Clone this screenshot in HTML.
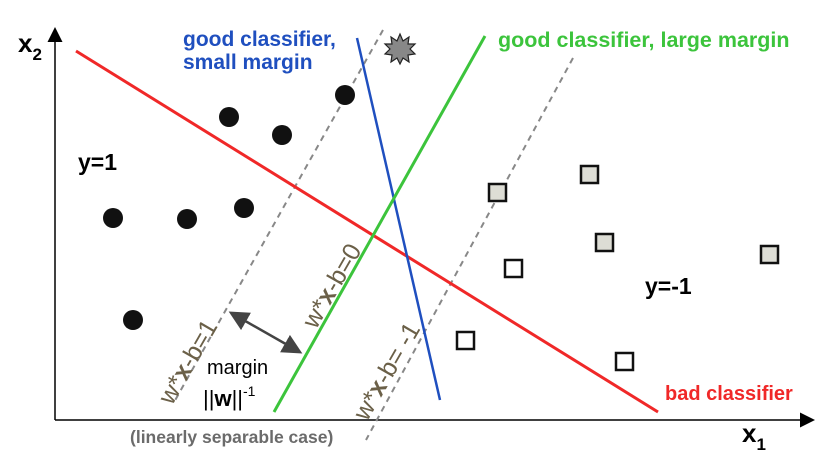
<!DOCTYPE html>
<html><head><meta charset="utf-8"><style>
body{margin:0;background:#fff;width:833px;height:459px;overflow:hidden}
svg{display:block;font-family:"Liberation Sans",Arial,sans-serif}
</style></head><body>
<svg width="833" height="459" viewBox="0 0 833 459">
<defs>
<marker id="ah" markerWidth="10" markerHeight="10" refX="8" refY="5" orient="auto"><path d="M0,0 L10,5 L0,10 z" fill="#000"/></marker>
<marker id="ah2" markerWidth="8" markerHeight="8" refX="6" refY="4" orient="auto-start-reverse"><path d="M0,0 L8,4 L0,8 z" fill="#444"/></marker>
</defs>
<line x1="55" y1="420" x2="55" y2="30" stroke="#000" stroke-width="1.5" marker-end="url(#ah)"/>
<line x1="55" y1="420" x2="812" y2="420" stroke="#000" stroke-width="1.5" marker-end="url(#ah)"/>
<text x="18" y="52" font-size="26" font-weight="bold">x<tspan font-size="17" dy="8">2</tspan></text>
<text x="742" y="442" font-size="26" font-weight="bold">x<tspan font-size="17" dy="8">1</tspan></text>
<line x1="383" y1="30" x2="173" y2="404" stroke="#888" stroke-width="2" stroke-dasharray="6,5"/>
<line x1="573" y1="58" x2="366" y2="440" stroke="#888" stroke-width="2" stroke-dasharray="6,5"/>
<line x1="76" y1="51" x2="658" y2="412" stroke="#f02828" stroke-width="3"/>
<line x1="357" y1="38" x2="440" y2="400" stroke="#1f4fbf" stroke-width="2.5"/>
<line x1="485" y1="36" x2="274" y2="412" stroke="#3cc43c" stroke-width="3"/>
<g fill="#111">
<circle cx="229" cy="117" r="10"/><circle cx="282" cy="135" r="10"/><circle cx="345" cy="95" r="10"/>
<circle cx="113" cy="218" r="10"/><circle cx="187" cy="219" r="10"/><circle cx="244" cy="208" r="10"/><circle cx="133" cy="320" r="10"/>
</g>
<g stroke="#111" stroke-width="2.5">
<rect x="489" y="184" width="17" height="17" fill="#ddddd5"/><rect x="581" y="166" width="17" height="17" fill="#ddddd5"/>
<rect x="596" y="234" width="17" height="17" fill="#ddddd5"/><rect x="761" y="246" width="17" height="17" fill="#ddddd5"/>
<rect x="505" y="260" width="17" height="17" fill="#fff"/><rect x="457" y="332" width="17" height="17" fill="#fff"/>
<rect x="616" y="353" width="17" height="17" fill="#fff"/>
</g>
<polygon fill="#888" stroke="#222" stroke-width="1.2" points="400,34 403,41 409,37 408,44 415,44 410,49 415,54 408,55 409,62 403,58 400,64 397,58 391,62 392,55 385,54 390,49 385,44 392,44 391,37 397,41"/>
<line x1="233" y1="314" x2="298" y2="351" stroke="#444" stroke-width="2.5" marker-start="url(#ah2)" marker-end="url(#ah2)"/>
<text x="78" y="170" font-size="23" font-weight="bold">y=1</text>
<text x="645" y="294" font-size="23" font-weight="bold">y=-1</text>
<text x="665" y="400" font-size="20" font-weight="bold" fill="#f02828">bad classifier</text>
<text x="498" y="47" font-size="21.5" font-weight="bold" fill="#3cc43c">good classifier, large margin</text>
<text x="183" y="46" font-size="21" font-weight="bold" fill="#1f4fbf">good classifier,<tspan x="183" dy="23">small margin</tspan></text>
<text x="130" y="443" font-size="17.5" font-weight="bold" fill="#6b6b6b">(linearly separable case)</text>
<text x="207" y="374" font-size="20">margin</text>
<text x="203" y="406" font-size="22">||<tspan font-weight="bold">w</tspan>||<tspan font-size="14" dy="-10">-1</tspan></text>
<g fill="#6b6048" font-size="25">
<text transform="translate(172,406) rotate(-60)">w*<tspan font-weight="bold">x</tspan>-b=1</text>
<text transform="translate(316,330) rotate(-60)">w*<tspan font-weight="bold">x</tspan>-b=0</text>
<text transform="translate(367,422) rotate(-60)">w*<tspan font-weight="bold">x</tspan>-b= -1</text>
</g>
</svg>
</body></html>
